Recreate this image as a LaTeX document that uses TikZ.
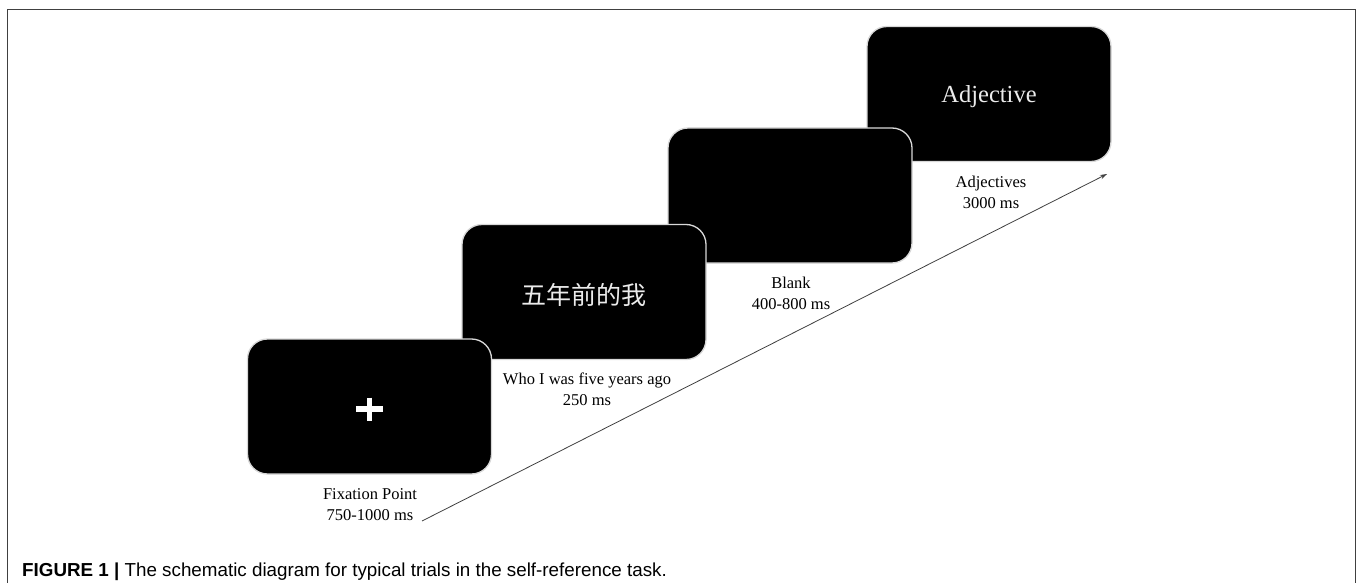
\documentclass[tikz,border=0pt]{standalone}
\usepackage{fontspec}
\setmainfont{Liberation Serif}
\newfontfamily\cjk{Noto Sans CJK SC}
\newfontfamily\capfont{Liberation Sans}
\usetikzlibrary{arrows.meta,calc}
\definecolor{edgegray}{HTML}{D8D8D8}
\definecolor{linegray}{HTML}{404040}
\begin{document}
\begin{tikzpicture}[x=1pt,y=-1pt,
  screen/.style={rectangle, rounded corners=20pt, minimum width=244pt, minimum height=135pt,
    fill=black, draw=edgegray, line width=1.3pt, inner sep=0pt},
  lbl/.style={anchor=base, inner sep=0pt, font=\fontsize{16.5}{20}\selectfont, text=black},
  intext/.style={text=white!92!black, inner sep=0pt}]
\useasboundingbox (0,0) rectangle (1358,583);
\fill[white] (0,0) rectangle (1358,583);
% frame
\draw[linegray, line width=1pt] (7.5,600) -- (7.5,10) -- (1355,10) -- (1355,600);
% screens (later ones underneath)
\node[screen] (b4) at (989,94) {};
\node[screen] (b3) at (790,195.5) {};
\node[screen] (b2) at (584,292) {};
\node[screen] (b1) at (369.5,406.5) {};
% contents
\draw[white, line width=5.5pt] ($(b1.center)+(-13.5,2.5)$) -- ($(b1.center)+(13.5,2.5)$);
\draw[white, line width=5.5pt] ($(b1.center)+(0,-9)$) -- ($(b1.center)+(0,14)$);
\node[intext, font=\cjk\fontsize{25}{25}\selectfont] (t2) at ($(b2.center)+(0,3)$) {五年前的我};
\node[intext, font=\fontsize{24.5}{25}\selectfont] (t4) at ($(b4.center)+(0,3)$) {Adjective};
% labels
\node[lbl] (l1a) at (370,499) {Fixation Point};
\node[lbl] (l1b) at (370,520) {750-1000 ms};
\node[lbl] (l2a) at (587,384) {Who I was five years ago};
\node[lbl] (l2b) at (587,405) {250 ms};
\node[lbl] (l3a) at (791,288) {Blank};
\node[lbl] (l3b) at (791,309) {400-800 ms};
\node[lbl] (l4a) at (991,187) {Adjectives};
\node[lbl] (l4b) at (991,208) {3000 ms};
% time arrow
\coordinate (as) at (422,521);
\coordinate (ae) at (1107,174);
\draw[linegray, line width=0.8pt, -{Stealth[length=7pt,width=4.5pt]}] (as) -- (ae);
% caption
\node[anchor=base west, inner sep=0pt, font=\capfont\fontsize{18.8}{20}\selectfont] (cap) at (22,576)
  {\textbf{FIGURE 1 |} The schematic diagram for typical trials in the self-reference task.};
\end{tikzpicture}
\end{document}
